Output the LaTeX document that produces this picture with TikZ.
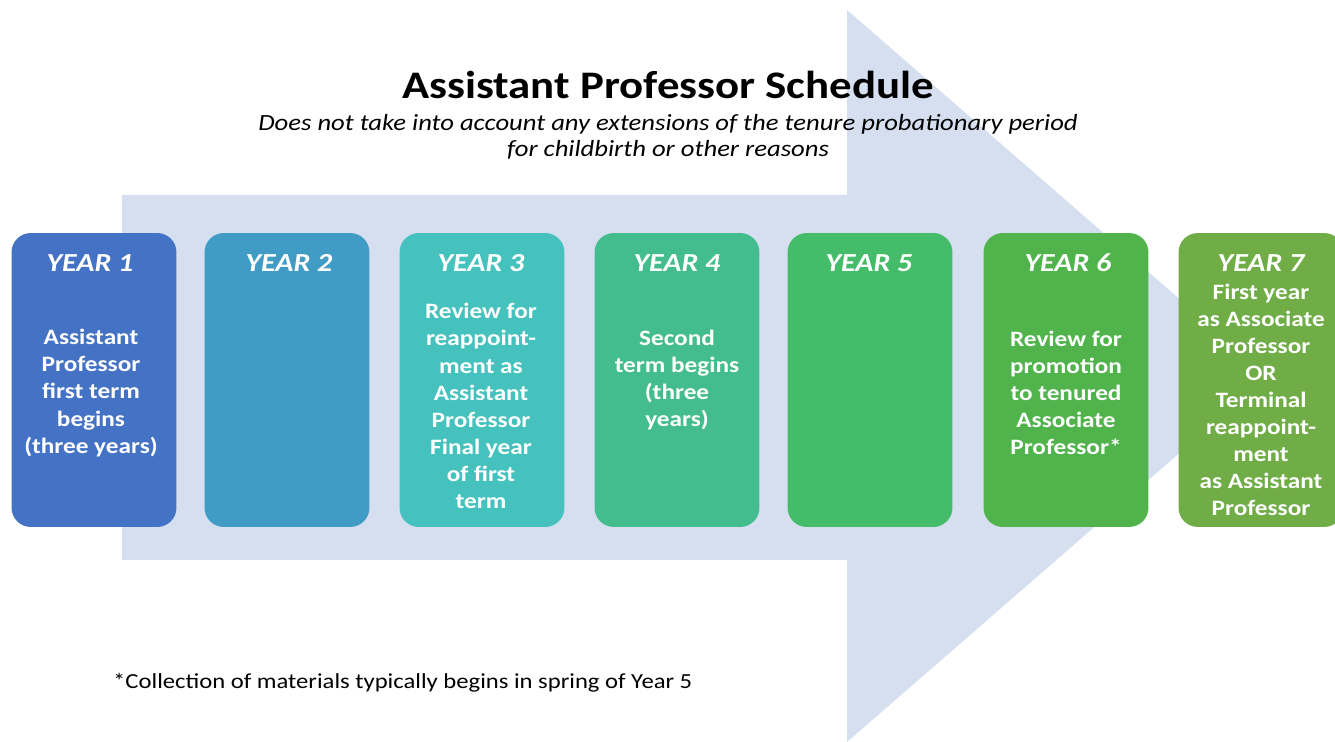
\documentclass[tikz,border=0pt]{standalone}
\usepackage{fontspec}
\setmainfont{Carlito}[FakeStretch=1.15]
\usepackage{xcolor}
\definecolor{arrowbg}{HTML}{D6DFEF}
\definecolor{yone}{HTML}{4472C4}
\definecolor{ytwo}{HTML}{419CC5}
\definecolor{ythree}{HTML}{45C2BD}
\definecolor{yfour}{HTML}{43BD8E}
\definecolor{yfive}{HTML}{45BC6A}
\definecolor{ysix}{HTML}{50B34B}
\definecolor{yseven}{HTML}{70AD47}
\tikzset{
  year box/.style={rounded corners=11pt,minimum width=3.3cm,minimum height=5.88cm,inner sep=0},
  year 1/.style={year box,fill=yone},
  year 2/.style={year box,fill=ytwo},
  year 3/.style={year box,fill=ythree},
  year 4/.style={year box,fill=yfour},
  year 5/.style={year box,fill=yfive},
  year 6/.style={year box,fill=ysix},
  year 7/.style={year box,fill=yseven},
  year head/.style={white,font=\fontsize{14.8}{18}\selectfont\bfseries\itshape},
  year text/.style={white,align=center,inner sep=0,font=\fontsize{12.5}{15.4}\selectfont\bfseries}
}

\begin{document}
\begin{tikzpicture}[x=0.02cm,y=-0.02cm]
    \useasboundingbox (0,0) rectangle (1335,742);

    % big background arrow
    \fill[arrowbg] (122,195) -- (847,195) -- (847,10) -- (1268,376) -- (847,742)
        -- (847,560) -- (122,560) -- cycle;

    \node (title) at (668,85) {\fontsize{22.2}{26}\selectfont\bfseries Assistant Professor Schedule};
    \node[align=center,font=\fontsize{13.2}{14.8}\selectfont\itshape] (subtitle) at (668,137)
        {Does not take into account any extensions of the tenure probationary period\\
         for childbirth or other reasons};

    \node[year 1] (y1) at (94,380) {};
    \node[year 2] (y2) at (287,380) {};
    \node[year 3] (y3) at (482,380) {};
    \node[year 4] (y4) at (677,380) {};
    \node[year 5] (y5) at (870,380) {};
    \node[year 6] (y6) at (1066,380) {};
    \node[year 7] (y7) at (1261,380) {};

    \node[year head] (h1) at (90,263) {YEAR 1};
    \node[year head] (h2) at (289,263) {YEAR 2};
    \node[year head] (h3) at (481,263) {YEAR 3};
    \node[year head] (h4) at (677,263) {YEAR 4};
    \node[year head] (h5) at (869,263) {YEAR 5};
    \node[year head] (h6) at (1068,263) {YEAR 6};
    \node[year head] (h7) at (1261,263) {YEAR 7};

    \node[year text] (t1) at (91,393) {Assistant\\Professor\\first term\\begins\\(three years)};
    \node[year text] (t3) at (481,406) {Review for\\reappoint-\\ment as\\Assistant\\Professor\\Final year\\of first\\term};
    \node[year text] (t4) at (677,380) {Second\\term begins\\(three\\years)};
    \node[year text] (t6) at (1066,393) {Review for\\promotion\\to tenured\\Associate\\Professor*};
    \node[year text] (t7) at (1261,400) {First year\\as Associate\\Professor\\OR\\Terminal\\reappoint-\\ment\\as Assistant\\Professor};

    \node[anchor=west,font=\fontsize{12.2}{15}\selectfont] (note) at (107,683)
        {*Collection of materials typically begins in spring of Year 5};
\end{tikzpicture}
\end{document}
